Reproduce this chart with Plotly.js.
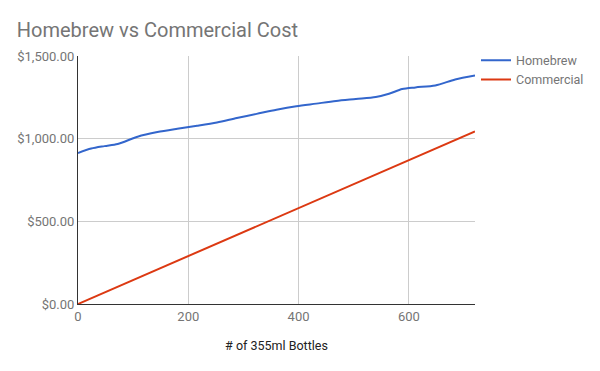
<!DOCTYPE html>
<html><head><meta charset="utf-8">
<script src="https://cdn.plot.ly/plotly-3.0.1.min.js"></script>
<style>html,body{margin:0;padding:0;background:#fff}#chart{width:600px;height:371px}</style>
</head><body><div id="chart"></div>
<script>
const bottles = [0, 24, 48, 72, 108, 144, 180, 216, 252, 288, 324, 360, 396, 432, 468, 504, 540, 564, 588, 612, 648, 684, 720];
const homebrew = [913, 940, 955, 968, 1012, 1040, 1060, 1078, 1098, 1125, 1150, 1175, 1196, 1212, 1228, 1240, 1252, 1272, 1300, 1310, 1322, 1358, 1382];
const commercialX = [0, 720];
const commercial = [0, 1044];
const seriesNames = ['Homebrew', 'Commercial'];

const traces = [
  {x: bottles, y: homebrew, name: seriesNames[0], type: 'scatter', mode: 'lines',
   line: {color: '#3366cc', width: 2, shape: 'spline', smoothing: 0.8}},
  {x: commercialX, y: commercial, name: seriesNames[1], type: 'scatter', mode: 'lines',
   line: {color: '#dc3912', width: 2}}
];
const layout = {
  width: 600, height: 371,
  margin: {l: 78, r: 125, t: 56, b: 67, autoexpand: false},
  paper_bgcolor: '#fff', plot_bgcolor: '#fff',
  font: {family: 'Roboto, sans-serif', color: '#757575', size: 12},
  title: {text: 'Homebrew vs Commercial Cost', x: 0.028, xanchor: 'left', y: 0.92, yanchor: 'middle',
          font: {size: 20, color: '#757575', family: 'Roboto, sans-serif'}},
  xaxis: {range: [0, 720], tickvals: [0, 200, 400, 600], showgrid: true, gridcolor: '#cccccc',
          zeroline: false, showline: true, linecolor: '#333', linewidth: 1, ticks: '',
          tickfont: {size: 13, color: '#757575'},
          title: {text: '# of 355ml Bottles', font: {size: 12.5, color: '#222'}, standoff: 18}},
  yaxis: {range: [0, 1500], tickvals: [0, 500, 1000, 1500], tickformat: '$,.2f', showgrid: true,
          gridcolor: '#cccccc', zeroline: false, showline: true, linecolor: '#333', linewidth: 1, ticks: '',
          tickfont: {size: 13, color: '#757575'}},
  showlegend: true,
  legend: {x: 1.0025, y: 1.042, xanchor: 'left', yanchor: 'top', font: {size: 12.5, color: '#757575'},
           itemwidth: 30}
};
Plotly.newPlot('chart', traces, layout, {displayModeBar: false, staticPlot: true});
</script></body></html>
